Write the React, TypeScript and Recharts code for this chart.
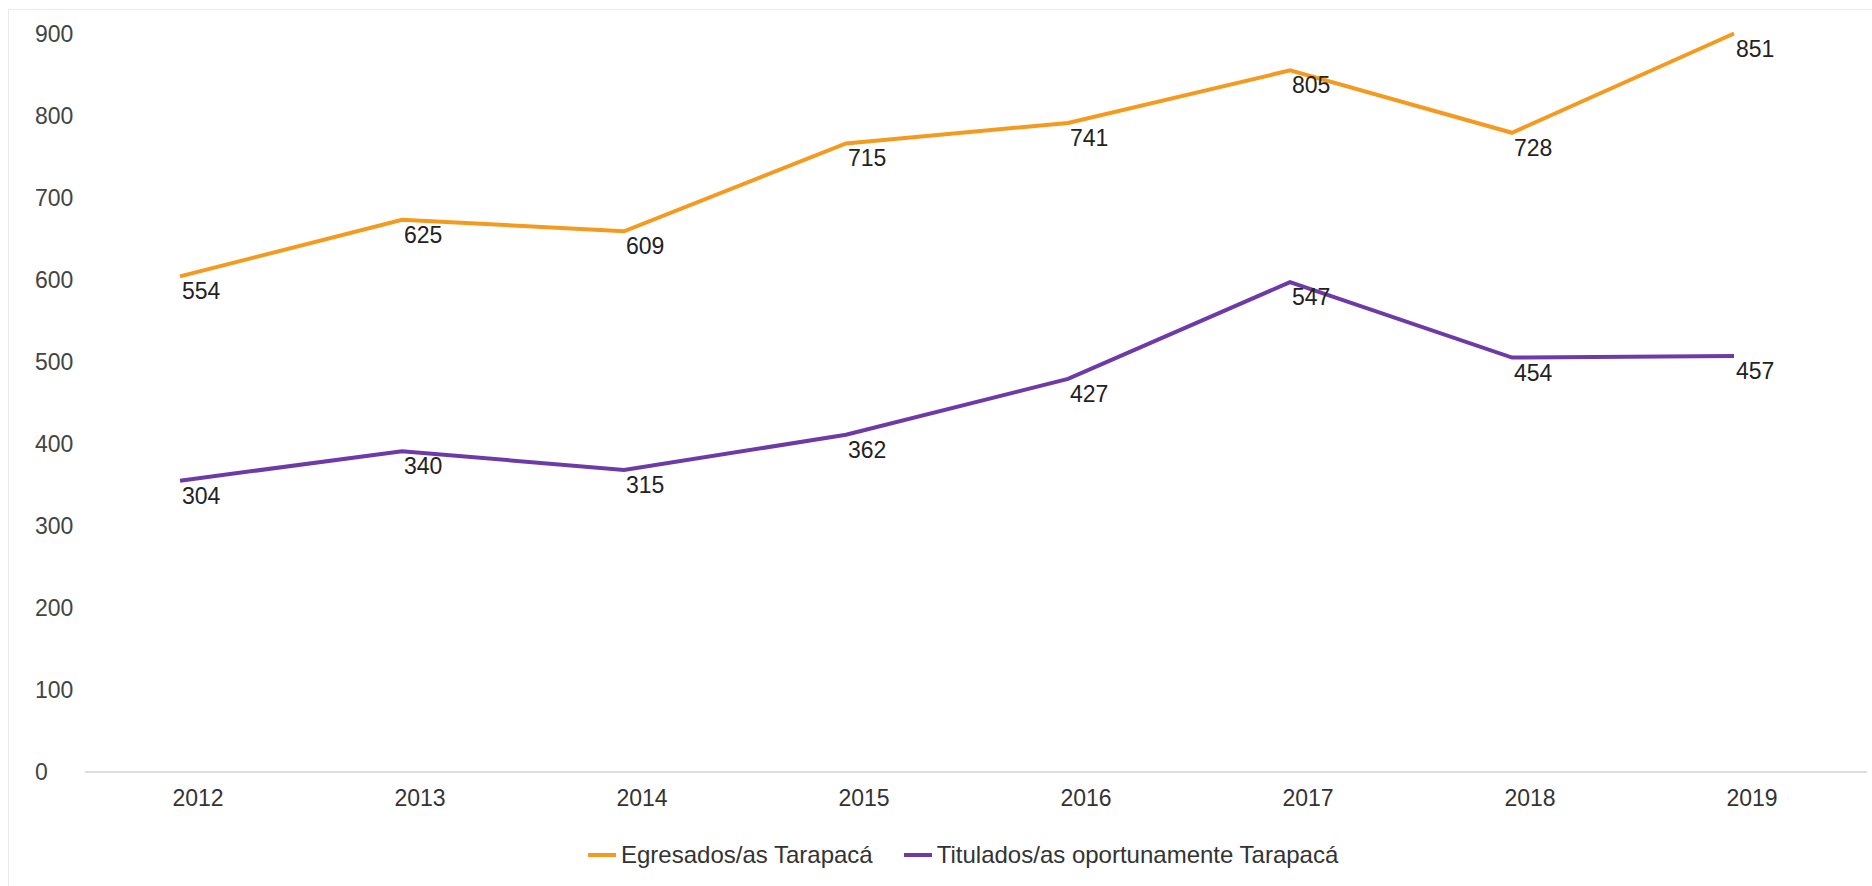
import React from 'react';
import { LineChart, Line, XAxis, YAxis, Legend, LabelList } from 'recharts';

const years = [2012, 2013, 2014, 2015, 2016, 2017, 2018, 2019];
// where the lines sit on the axis
const egresadosPlot = [604, 673, 659, 766, 791, 855, 779, 900];
const tituladosPlot = [355, 391, 368, 411, 479, 597, 505, 507];
// the numbers printed next to each point
const egresadosLabels = [554, 625, 609, 715, 741, 805, 728, 851];
const tituladosLabels = [304, 340, 315, 362, 427, 547, 454, 457];
const yTicks = [0, 100, 200, 300, 400, 500, 600, 700, 800, 900];

const ORANGE = '#F39A1F';
const PURPLE = '#6E3AA7';
const FONT = '"Liberation Sans", Arial, sans-serif';

const data = years.map((year, i) => ({
  year,
  egresados: egresadosPlot[i],
  titulados: tituladosPlot[i],
}));

const makeLabel = (labels: number[]) => (props: any) => {
  const { x, y, index } = props;
  return (
    <text
      x={x + 2}
      y={y + 15}
      fontSize={23}
      fontFamily={FONT}
      fill="#222"
      dominantBaseline="central"
    >
      {labels[index]}
    </text>
  );
};

const YTick = (props: any) => (
  <text
    x={35}
    y={props.y}
    fontSize={23}
    fontFamily={FONT}
    fill="#444"
    dominantBaseline="central"
  >
    {props.payload.value}
  </text>
);

const XTick = (props: any) => (
  <text
    x={props.x + 18}
    y={props.y + 18}
    fontSize={23}
    fontFamily={FONT}
    fill="#333"
    textAnchor="middle"
    dominantBaseline="central"
  >
    {props.payload.value}
  </text>
);

const legendItems = [
  { name: 'Egresados/as Tarapacá', color: ORANGE },
  { name: 'Titulados/as oportunamente Tarapacá', color: PURPLE },
];

const LegendContent = () => (
  <div
    style={{
      display: 'flex',
      alignItems: 'center',
      height: 30,
      paddingLeft: 588,
      fontFamily: FONT,
      fontSize: 24,
      color: '#333',
    }}
  >
    {legendItems.map((item, i) => (
      <div key={item.name} style={{ display: 'flex', alignItems: 'center', marginLeft: i ? 31 : 0 }}>
        <span style={{ display: 'inline-block', width: 28, height: 4, background: item.color, marginRight: 5 }} />
        <span>{item.name}</span>
      </div>
    ))}
  </div>
);

export default function App() {
  return (
    <div style={{ position: 'relative', width: 1872, height: 886, background: '#fff' }}>
      <style>{'body{margin:0}'}</style>
      <div style={{ position: 'absolute', left: 8, top: 9, width: 1864, height: 1, background: '#ebebeb' }} />
      <div style={{ position: 'absolute', left: 8, top: 9, width: 1, height: 877, background: '#ebebeb' }} />
      <LineChart
        width={1872}
        height={886}
        data={data}
        margin={{ top: 33.5, right: 5, bottom: 34, left: 0 }}
      >
        <XAxis
          dataKey="year"
          type="number"
          domain={[2011.572, 2019.599]}
          allowDataOverflow
          ticks={years}
          tick={<XTick />}
          tickLine={false}
          axisLine={{ stroke: '#d4d4d4', strokeWidth: 1.5 }}
          height={50}
        />
        <YAxis
          width={85}
          domain={[0, 900]}
          ticks={yTicks}
          tick={<YTick />}
          axisLine={false}
          tickLine={false}
        />
        <Legend
          verticalAlign="bottom"
          content={<LegendContent />}
          wrapperStyle={{ top: 840, left: 0, width: 1872, height: 30 }}
        />
        <Line
          dataKey="egresados"
          name="Egresados/as Tarapacá"
          stroke={ORANGE}
          strokeWidth={4}
          dot={false}
          isAnimationActive={false}
        >
          <LabelList dataKey="egresados" content={makeLabel(egresadosLabels)} />
        </Line>
        <Line
          dataKey="titulados"
          name="Titulados/as oportunamente Tarapacá"
          stroke={PURPLE}
          strokeWidth={4}
          dot={false}
          isAnimationActive={false}
        >
          <LabelList dataKey="titulados" content={makeLabel(tituladosLabels)} />
        </Line>
      </LineChart>
    </div>
  );
}
